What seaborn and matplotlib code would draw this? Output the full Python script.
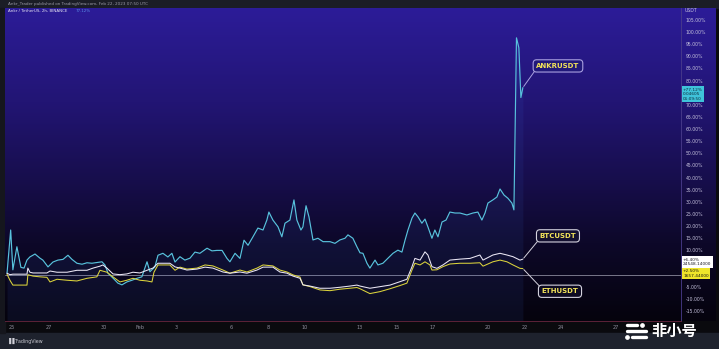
import numpy as np
import pandas as pd
import matplotlib
matplotlib.use("Agg")
import matplotlib.pyplot as plt
import seaborn as sns
from matplotlib.colors import LinearSegmentedColormap
from matplotlib.patches import Rectangle
from matplotlib.lines import Line2D

sns.set_theme(style="dark")
plt.rcParams['font.family'] = ['DejaVu Sans', 'Noto Sans CJK SC']

# ---------------- data (percent change since start, days after 2023-01-25) -------------
ankr_days = [-0.27, -0.07, 0.05, 0.27, 0.49, 0.66, 0.82, 0.98, 1.26, 1.53,
             1.69, 1.97, 2.24, 2.51, 2.79, 3.06, 3.28, 3.55, 3.83, 4.10,
             4.37, 4.64, 4.92, 5.08, 5.25, 5.52, 5.79, 6.01, 6.28, 6.56,
             6.83, 7.10, 7.38, 7.54, 7.81, 7.98, 8.25, 8.52, 8.74, 8.91,
             9.18, 9.45, 9.73, 10.00, 10.27, 10.66, 10.93, 11.20, 11.48, 11.75,
             11.91, 12.19, 12.46, 12.68, 12.90, 13.17, 13.44, 13.72, 13.93, 14.04,
             14.26, 14.54, 14.75, 14.92, 15.19, 15.41, 15.57, 15.79, 15.90, 16.07,
             16.23, 16.45, 16.72, 17.00, 17.38, 17.65, 17.92, 18.20, 18.36, 18.63,
             18.85, 19.02, 19.18, 19.40, 19.56, 19.84, 20.00, 20.27, 20.55, 20.82,
             21.09, 21.31, 21.48, 21.64, 21.86, 22.02, 22.19, 22.40, 22.57, 22.73,
             22.95, 23.11, 23.28, 23.50, 23.72, 23.93, 24.21, 24.48, 24.86, 25.19,
             25.46, 25.68, 25.85, 26.01, 26.28, 26.50, 26.67, 26.89, 27.10, 27.32,
             27.43, 27.57, 27.70, 27.81, 27.92]
ankr_pct = [0.5, 18.4, 2.0, 11.5, 3.0, 2.7, 6.0, 7.3, 8.5, 6.8,
            6.0, 3.2, 5.2, 6.0, 6.3, 8.0, 6.3, 4.7, 4.3, 4.9,
            4.7, 5.0, 5.3, 4.0, 0.6, -1.4, -3.5, -4.2, -3.0, -2.3,
            -1.5, -0.9, 5.3, 1.2, 3.2, 8.0, 8.8, 7.3, 8.8, 5.2,
            7.4, 6.0, 6.8, 9.3, 8.8, 10.9, 9.8, 10.0, 10.0, 6.7,
            5.3, 8.8, 6.7, 14.2, 12.1, 15.6, 19.2, 18.4, 22.5, 25.8,
            22.5, 19.7, 15.6, 21.2, 22.5, 30.8, 22.5, 18.4, 19.7, 28.4,
            23.8, 14.3, 15.0, 13.6, 13.6, 12.9, 14.3, 15.0, 16.4, 15.0,
            11.5, 9.0, 8.8, 4.7, 2.7, 6.0, 4.0, 4.7, 6.8, 8.8,
            10.1, 9.3, 14.2, 18.4, 23.3, 25.4, 23.8, 21.2, 22.9, 19.7,
            15.0, 18.4, 15.6, 21.7, 22.5, 25.8, 25.4, 25.4, 24.6, 25.4,
            25.8, 22.5, 25.4, 29.5, 30.8, 32.0, 35.3, 32.8, 31.5, 29.5,
            26.7, 97.6, 93.5, 73.0, 77.1]

btc_days = [-0.27, -0.11, 0.05, 0.44, 0.82, 0.87, 0.98, 1.15, 1.91, 2.08,
            2.46, 3.01, 3.55, 4.10, 4.43, 4.81, 4.97, 5.19, 5.52, 5.90,
            6.28, 6.61, 6.99, 7.38, 7.70, 7.98, 8.25, 8.63, 8.91, 9.18,
            9.56, 10.11, 10.55, 10.98, 11.53, 11.91, 12.46, 12.84, 13.39, 13.72,
            14.26, 14.64, 15.03, 15.36, 15.74, 15.90, 16.28, 16.83, 17.38, 17.92,
            18.47, 18.85, 19.02, 19.56, 20.66, 21.20, 21.58, 21.86, 22.02, 22.30,
            22.57, 22.73, 22.95, 23.22, 23.55, 23.93, 24.48, 25.03, 25.57, 25.74,
            26.28, 26.67, 27.05, 27.38, 27.76, 27.92]
btc_pct = [0.6, 0.0, 0.2, 0.2, 0.2, 2.7, 1.0, 0.7, 0.7, 1.5,
           1.0, 1.0, 1.8, 1.8, 2.7, 3.5, 4.0, 2.7, 0.3, 0.0,
           0.3, 1.0, 0.7, 1.8, 2.7, 4.7, 4.7, 4.7, 3.2, 2.7,
           1.9, 2.3, 3.1, 2.7, 1.1, 0.6, 1.1, 0.6, 1.9, 3.1,
           3.1, 1.1, 0.6, -0.6, -1.5, -4.2, -4.7, -5.6, -5.6, -5.2,
           -4.7, -4.3, -4.7, -5.6, -4.3, -2.9, -1.9, 3.3, 6.7, 6.0,
           9.4, 8.1, 3.3, 2.6, 4.0, 6.0, 6.4, 6.7, 8.1, 6.0,
           8.1, 8.8, 8.1, 7.4, 6.0, 6.4]

eth_days = [-0.27, -0.11, 0.05, 0.82, 0.87, 1.15, 1.53, 1.91, 2.08, 2.46,
            3.01, 3.55, 4.10, 4.64, 4.81, 5.19, 5.52, 5.90, 6.28, 6.61,
            6.99, 7.38, 7.65, 7.76, 7.98, 8.25, 8.63, 8.91, 9.18, 9.56,
            10.11, 10.55, 10.98, 11.53, 11.91, 12.46, 12.84, 13.39, 13.72, 14.26,
            14.64, 15.03, 15.36, 15.74, 15.90, 16.28, 16.83, 17.38, 17.92, 18.47,
            18.85, 19.02, 19.56, 20.11, 20.66, 21.20, 21.58, 21.86, 22.02, 22.30,
            22.57, 22.84, 22.95, 23.22, 23.55, 23.93, 24.48, 25.03, 25.57, 25.74,
            26.28, 26.67, 27.05, 27.38, 27.76, 27.92]
eth_pct = [0.2, -2.3, -4.3, -4.3, 0.0, -0.6, -0.9, -1.1, -3.0, -1.9,
           -2.3, -2.6, -1.5, -0.9, 1.8, 1.0, -0.9, -3.0, -2.3, -1.5,
           -2.3, -2.6, -3.0, 1.0, 4.0, 4.0, 4.0, 1.8, 3.1, 2.3,
           2.7, 4.0, 3.6, 1.9, 0.6, 1.9, 1.1, 2.7, 4.0, 3.6,
           1.9, 1.1, -0.1, -1.0, -4.2, -4.9, -6.3, -6.6, -6.0, -5.6,
           -5.3, -5.8, -7.8, -7.0, -5.8, -4.5, -3.5, 1.9, 4.7, 4.0,
           5.3, 4.0, 1.9, 2.0, 3.3, 4.4, 4.7, 4.7, 4.9, 3.5,
           5.3, 6.0, 5.3, 4.0, 2.6, 2.5]

tick_dates = ["2023-01-25", "2023-01-27", "2023-01-30", "2023-02-01", "2023-02-03",
              "2023-02-06", "2023-02-08", "2023-02-10", "2023-02-13", "2023-02-15",
              "2023-02-17", "2023-02-20", "2023-02-22", "2023-02-24", "2023-02-27"]
tick_labels = ["25", "27", "30", "Feb", "3", "6", "8", "10", "13", "15",
               "17", "20", "22", "24", "27"]
# visible price-scale labels (75%, 5% and 0% are hidden behind the last-value tags)
price_ticks = [105, 100, 95, 90, 85, 80, 70, 65, 60, 55, 50, 45, 40, 35,
               30, 25, 20, 15, 10, -5, -10, -15]

# ---------------- helpers -----------------
t0 = pd.Timestamp("2023-01-25")
def to_time(days):
    return t0 + pd.to_timedelta(np.array(days), unit="D")

ankr_t = to_time(ankr_days)
btc_t = to_time(btc_days)
eth_t = to_time(eth_days)

W, H = 719, 349
def fx(x): return x / W
def fy(y): return 1 - y / H

fig = plt.figure(figsize=(7.19, 3.49), dpi=100)
fig.patch.set_facecolor('#0a0a0e')

# frame bands
fig.add_artist(Rectangle((0, fy(8)), 1, 8 / H, transform=fig.transFigure,
                         color='#1b1d26', zorder=0))
fig.add_artist(Rectangle((0, 0), 1, 16 / H, transform=fig.transFigure,
                         color='#1e222d', zorder=0))
fig.add_artist(Rectangle((0, fy(333)), fx(5), (333 - 8) / H, transform=fig.transFigure,
                         color='#15161d', zorder=0))

# gradient background
bgax = fig.add_axes([fx(5), fy(321), fx(716) - fx(5), (321 - 8) / H], zorder=0)
cmap = LinearSegmentedColormap.from_list(
    "tvbg", [(0.0, '#2c1c98'), (0.3, '#221574'), (0.55, '#170e4c'),
             (0.75, '#0d0829'), (1.0, '#05030d')])
grad = np.linspace(0, 1, 256).reshape(-1, 1)
bgax.imshow(grad, aspect='auto', cmap=cmap, extent=[0, 1, 0, 1])
bgax.axis('off')

ax = fig.add_axes([fx(5), fy(321), fx(681) - fx(5), (321 - 8) / H], zorder=1)
ax.set_facecolor('none')

ymin, ymax = -19.1, 109.9
ax.set_ylim(ymin, ymax)
ax.set_xlim(t0 + pd.Timedelta(days=-0.38), t0 + pd.Timedelta(days=36.56))

# zero line
ax.axhline(0, color='#a4a4b4', lw=0.5, zorder=1)

# ANKR area + line
ax.fill_between(ankr_t, ankr_pct, ymin, color='#4170e0', alpha=0.09, lw=0, zorder=1)
sns.lineplot(x=ankr_t, y=ankr_pct, ax=ax, color='#58c2dd', lw=0.85,
             estimator=None, sort=False, zorder=3)
sns.lineplot(x=eth_t, y=eth_pct, ax=ax, color='#dcd43c', lw=0.75,
             estimator=None, sort=False, zorder=3)
sns.lineplot(x=btc_t, y=btc_pct, ax=ax, color='#ece8f6', lw=0.75,
             estimator=None, sort=False, zorder=4)

# axes styling
ax.grid(False)
for s in ['top', 'left']:
    ax.spines[s].set_visible(False)
ax.spines['right'].set_color('#4a3c8c')
ax.spines['right'].set_linewidth(0.6)
ax.spines['bottom'].set_color('#5c2238')
ax.spines['bottom'].set_linewidth(0.7)

ax.set_xticks(pd.to_datetime(tick_dates))
ax.set_xticklabels(tick_labels)
ax.tick_params(axis='x', length=0, pad=3, labelsize=3.6, labelcolor='#8e8e9c')
ax.yaxis.tick_right()
ax.set_yticks(price_ticks)
ax.set_yticklabels([f"{v:.2f}%" for v in price_ticks])
ax.tick_params(axis='y', length=0, pad=3.2, labelsize=3.3, labelcolor='#c4c0dc')
ax.set_xlabel("")
ax.set_ylabel("")

# series labels with leader lines
def series_label(text, xy, xytext, relpos, edge, face):
    ax.annotate(text, xy=xy, xycoords='data', xytext=xytext, textcoords='axes fraction',
                ha='center', va='center', fontsize=5, fontweight='bold', color='#f2e35a',
                bbox=dict(boxstyle='round,pad=0.45,rounding_size=0.5', fc=face, ec=edge, lw=0.8),
                arrowprops=dict(arrowstyle='-', color=edge, lw=0.7, relpos=relpos,
                                shrinkA=0, shrinkB=1),
                zorder=6)

series_label("ANKRUSDT", (ankr_t[-1], ankr_pct[-1]), (0.818, 0.815), (0, 0), '#a9a0e0', '#21197a')
series_label("BTCUSDT", (btc_t[-1], btc_pct[-1]), (0.818, 0.272), (0, 0), '#d4d2de', '#141030')
series_label("ETHUSDT", (eth_t[-1], eth_pct[-1]), (0.821, 0.095), (0, 1), '#d4d2de', '#0d0a22')

# price-scale tags
def tag(y, text, face, tc):
    ax.text(1.003, y, text, transform=ax.get_yaxis_transform(), ha='left', va='center',
            fontsize=3.1, color=tc, linespacing=1.15, clip_on=False, zorder=7,
            bbox=dict(boxstyle='square,pad=0.35', fc=face, ec='none'))

tag(74.4, "+77.12%\n0.04605\n01:09:50", '#3fc3da', '#0b2c3c')
tag(5.3, "+6.40%\n24548.14000", '#ffffff', '#1a1a22')
tag(0.4, "+2.50%\n1657.44000", '#efe52a', '#1a1a10')

# texts
fig.text(fx(685), fy(10), "USDT", fontsize=3.3, color='#c4c0dc', va='center', ha='left')
fig.text(fx(8), fy(3.5), "Ankr_Trader published on TradingView.com, Feb 22, 2023 07:50 UTC",
         fontsize=3.0, color='#9a9aa6', va='center', ha='left')
fig.text(fx(8), fy(11.5), "Ankr / TetherUS, 2h, BINANCE", fontsize=2.9, color='#e6e4f2',
         va='center', ha='left')
fig.text(fx(76), fy(11.5), "77.12%", fontsize=2.9, color='#5a8fe8', va='center', ha='left')
fig.text(fx(7), fy(341), "\u2590\u2590", fontsize=4, color='#d0d0d8', va='center', ha='left',
         fontweight='bold')
fig.text(fx(15), fy(341), "TradingView", fontsize=3.4, color='#c8c8d0', va='center', ha='left')

# watermark
fig.text(fx(651), fy(331), "非小号", fontsize=11, color='#ffffff', va='center', ha='left',
         family=['Noto Sans CJK SC', 'DejaVu Sans'], fontweight='bold', zorder=10)
for (x0, x1, yy) in [(627, 637, 325), (627, 646, 331), (632, 646, 337)]:
    fig.add_artist(Line2D([fx(x0), fx(x1)], [fy(yy), fy(yy)], transform=fig.transFigure,
                          color='white', lw=2.4, solid_capstyle='round', zorder=10))
for (xx, yy) in [(642, 325), (627, 337)]:
    fig.add_artist(Line2D([fx(xx)], [fy(yy)], transform=fig.transFigure, marker='o',
                          ms=2.4, color='white', lw=0, zorder=10))

fig.savefig("out.png", dpi=100, facecolor=fig.get_facecolor())
